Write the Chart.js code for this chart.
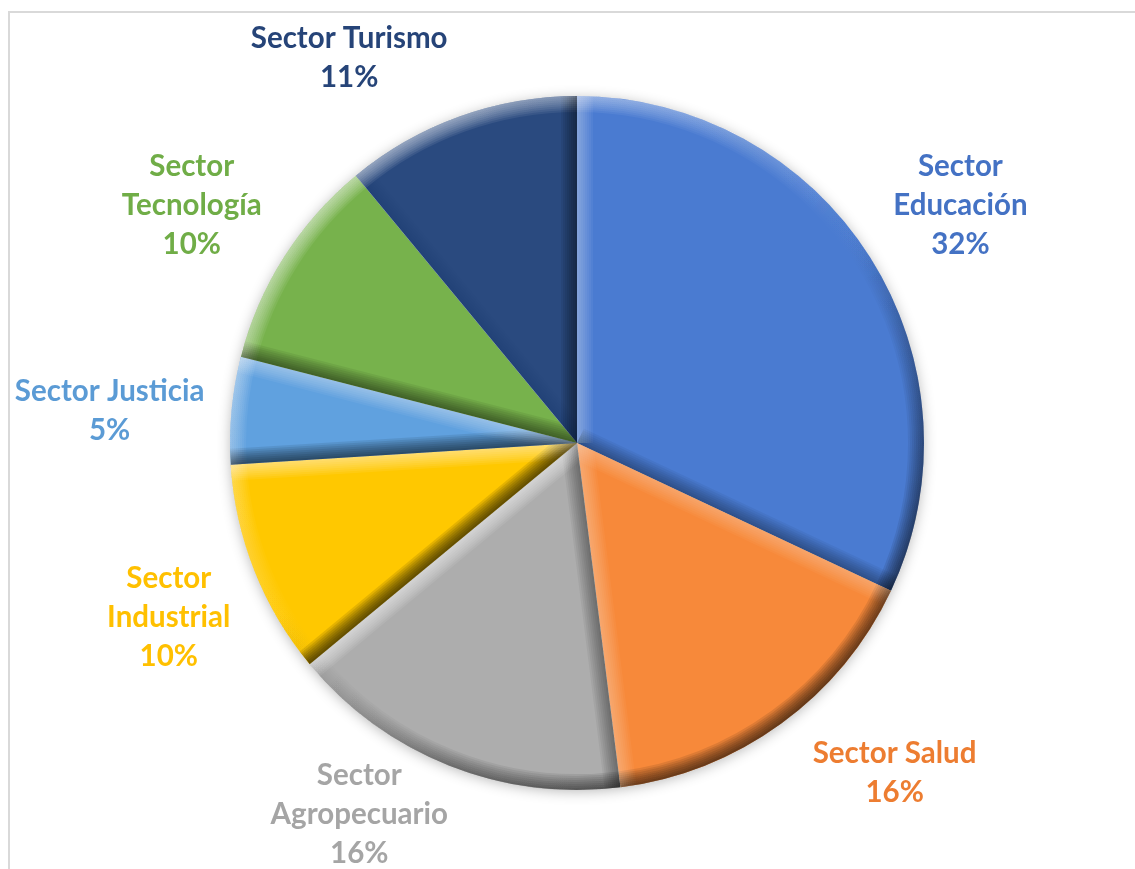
<!DOCTYPE html>
<html lang="es">

<head>
  <meta charset="UTF-8">
  <title>Distribución por sector</title>
  <script src="https://cdn.jsdelivr.net/npm/chart.js"></script>
  <style>
    body { margin: 0; background: #fff; }
    #marco {
      position: absolute; left: 8px; top: 11px; width: 1200px; height: 900px;
      border: 2px solid #d9d9d9; box-sizing: border-box;
    }
    #grafico { position: absolute; left: 0; top: 0; }
  </style>
</head>

<body>
  <div id="marco"></div>
  <canvas id="grafico" width="1135" height="869"></canvas>

  <script>
    // Datos del gráfico
    var sectores = ['Sector\nEducación', 'Sector Salud', 'Sector\nAgropecuario', 'Sector\nIndustrial',
      'Sector Justicia', 'Sector\nTecnología', 'Sector Turismo'];
    var porcentajes = [32, 16, 16, 10, 5, 10, 11];

    // Colores de las porciones y de las etiquetas
    var coloresPorcion = ['#4a7bd1', '#f7893a', '#adadad', '#ffc800', '#60a1df', '#77b24c', '#2a4a7f'];
    var coloresTexto = ['#4472c4', '#ed7d31', '#a5a5a5', '#ffc000', '#5b9bd5', '#70ad47', '#264478'];

    // Ajuste de la posición de cada etiqueta: giro (grados) y distancia (en radios)
    var giroEtiqueta = [0.6, -7.9, 8.8, -1.6, -1.5, -0.7, -10.8];
    var distEtiqueta = [1.30, 1.32, 1.24, 1.28, 1.35, 1.305, 1.29];

    // Luz desde arriba a la izquierda
    var luzX = -0.6, luzY = -0.8;

    function tono(nx, ny, k) {
      var s = nx * luzX + ny * luzY;
      return s > 0 ? 'rgba(255,255,255,' + (s * k).toFixed(3) + ')' : 'rgba(0,0,0,' + (-s * k * 1.3).toFixed(3) + ')';
    }

    // Sombra suave alrededor del círculo y efecto de bisel en cada porción
    var bisel = {
      id: 'bisel',
      beforeDatasetsDraw: function (chart) {
        var arco = chart.getDatasetMeta(0).data[0];
        var ctx = chart.ctx;
        ctx.save();
        ctx.shadowColor = 'rgba(0,0,0,0.3)';
        ctx.shadowBlur = 14;
        ctx.shadowOffsetY = 2;
        ctx.fillStyle = '#fff';
        ctx.beginPath();
        ctx.arc(arco.x, arco.y, arco.outerRadius - 1, 0, Math.PI * 2);
        ctx.fill();
        ctx.restore();
      },
      afterDatasetsDraw: function (chart) {
        var ctx = chart.ctx;
        chart.getDatasetMeta(0).data.forEach(function (el) {
          var p = el.getProps(['x', 'y', 'startAngle', 'endAngle', 'outerRadius'], true);
          var x = p.x, y = p.y, a0 = p.startAngle, a1 = p.endAngle, r = p.outerRadius;
          ctx.save();
          ctx.beginPath();
          ctx.moveTo(x, y);
          ctx.arc(x, y, r, a0, a1);
          ctx.closePath();
          ctx.clip();
          ctx.lineCap = 'butt';
          for (var w = 32; w > 0; w -= 4) {
            var k = 0.08;
            ctx.lineWidth = w;
            // borde exterior con gradiente cónico según la orientación
            var g = ctx.createConicGradient(0, x, y);
            for (var d = 0; d <= 360; d += 10) {
              var t = d * Math.PI / 180;
              g.addColorStop(d / 360, tono(Math.cos(t), Math.sin(t), k));
            }
            ctx.strokeStyle = g;
            ctx.beginPath();
            ctx.arc(x, y, r, a0, a1);
            ctx.stroke();
            // bordes rectos
            ctx.strokeStyle = tono(Math.sin(a0), -Math.cos(a0), k);
            ctx.beginPath();
            ctx.moveTo(x, y);
            ctx.lineTo(x + r * Math.cos(a0), y + r * Math.sin(a0));
            ctx.stroke();
            ctx.strokeStyle = tono(-Math.sin(a1), Math.cos(a1), k);
            ctx.beginPath();
            ctx.moveTo(x, y);
            ctx.lineTo(x + r * Math.cos(a1), y + r * Math.sin(a1));
            ctx.stroke();
          }
          ctx.restore();
        });
      },
      // etiquetas con nombre del sector y porcentaje
      afterDraw: function (chart) {
        var ctx = chart.ctx;
        var total = porcentajes.reduce(function (a, b) { return a + b; }, 0);
        ctx.save();
        ctx.font = 'bold 29.5px Lato';
        ctx.textAlign = 'center';
        ctx.textBaseline = 'middle';
        chart.getDatasetMeta(0).data.forEach(function (el, i) {
          var p = el.getProps(['x', 'y', 'startAngle', 'endAngle', 'outerRadius'], true);
          var medio = (p.startAngle + p.endAngle) / 2 + giroEtiqueta[i] * Math.PI / 180;
          var cx = p.x + p.outerRadius * distEtiqueta[i] * Math.cos(medio);
          var cy = p.y + p.outerRadius * distEtiqueta[i] * Math.sin(medio);
          var lineas = sectores[i].split('\n');
          lineas.push(Math.round(porcentajes[i] / total * 100) + '%');
          var alto = 39;
          ctx.fillStyle = coloresTexto[i];
          lineas.forEach(function (txt, j) {
            ctx.fillText(txt, cx, cy + (j - (lineas.length - 1) / 2) * alto);
          });
        });
        ctx.restore();
      }
    };

    var ctx = document.getElementById('grafico').getContext('2d');
    var grafico = new Chart(ctx, {
      type: 'pie',
      data: {
        labels: sectores,
        datasets: [{
          data: porcentajes,
          backgroundColor: coloresPorcion,
          borderWidth: 0
        }]
      },
      options: {
        responsive: false,
        animation: false,
        layout: { padding: { left: 230, right: 211, top: 96, bottom: 79 } },
        plugins: {
          legend: { display: false },
          tooltip: { enabled: false }
        }
      },
      plugins: [bisel]
    });
  </script>
</body>

</html>
